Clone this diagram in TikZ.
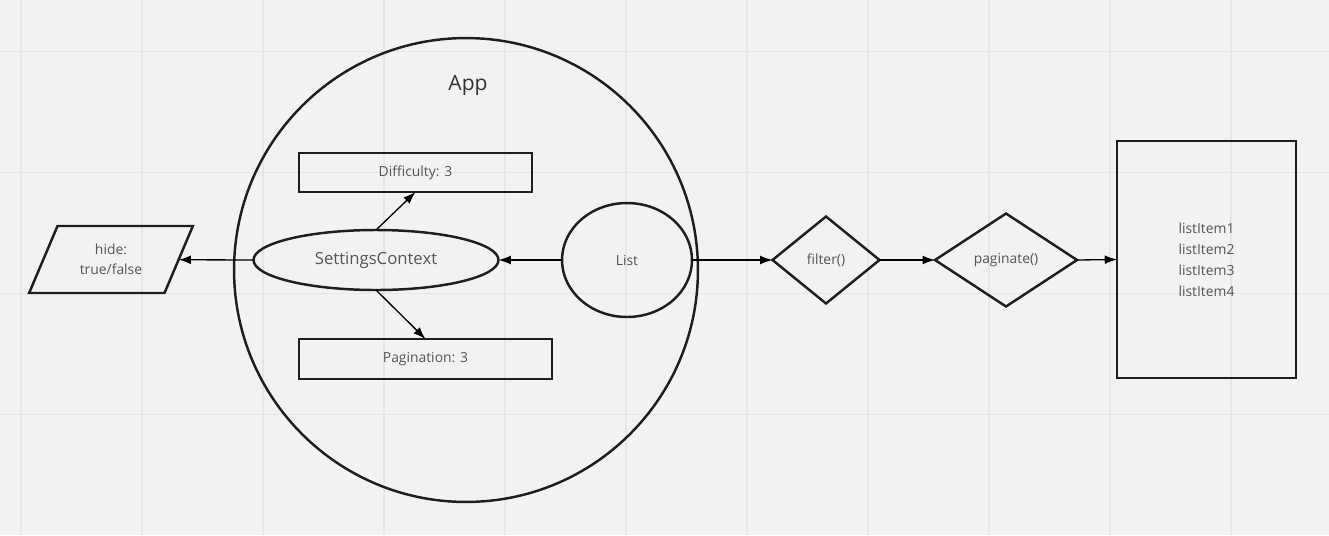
\documentclass[tikz,border=0pt]{standalone}
\usepackage{fontspec}
\setmainfont{Open Sans}
\usepackage{xcolor}
\usepackage{tikz}
\usetikzlibrary{shapes.geometric,arrows.meta}
\definecolor{appbg}{RGB}{242,242,242}
\definecolor{appgrid}{RGB}{230,230,230}
\definecolor{appline}{RGB}{30,30,30}
\definecolor{apptext}{RGB}{85,85,85}
\definecolor{apptitle}{RGB}{51,51,51}
\newcommand{\smalltext}{\fontsize{7.9}{11.6}\selectfont}
\tikzset{
    app shape/.style={
        draw=appline,
        line width=1.4pt,
        fill=none,
        inner sep=0pt,
        outer sep=0pt,
        align=center,
        text=apptext,
        font=\smalltext,
    },
    app box/.style={
        app shape,
        rectangle,
    },
    app ellipse/.style={
        app shape,
        ellipse,
    },
    app decision/.style={
        app shape,
        diamond,
    },
    app input/.style={
        app shape,
        trapezium,
        trapezium left angle=62,
        trapezium right angle=118,
        trapezium stretches=true,
    },
    app arrow/.style={
        -{Latex[length=7pt,width=5pt]},
        line width=0.75pt,
        draw=black,
    },
}

\begin{document}
\begin{tikzpicture}[x=0.02cm,y=-0.02cm]
    %Background with grid
    \fill[appbg] (0,0) rectangle (1329,535);
    \useasboundingbox (0,0) rectangle (1329,535);
    \foreach \gx in {21,142,...,1329} {
        \draw[appgrid,line width=0.6pt] (\gx,0) -- (\gx,535);
    }
    \foreach \gy in {51.5,172.5,...,535} {
        \draw[appgrid,line width=0.6pt] (0,\gy) -- (1329,\gy);
    }

    \node[app shape,circle,minimum size=9.28cm] (app) at (466,270) {};
    \node[text=apptitle,font=\fontsize{12}{14}\selectfont] (app-label) at (468,85.5) {App};

    \node[app box,minimum width=4.66cm,minimum height=0.78cm] (difficulty) at (415.5,172.5) {Difficulty: 3};
    \node[app box,minimum width=5.06cm,minimum height=0.8cm] (pagination) at (425.5,359) {Pagination: 3};
    \node[app ellipse,minimum width=4.9cm,minimum height=1.2cm,font=\fontsize{9.5}{12}\selectfont] (settings) at (376,260) {SettingsContext};
    \node[app ellipse,minimum width=2.6cm,minimum height=2.28cm] (list) at (627,260) {List};

    \node[app input,minimum width=3.28cm,minimum height=1.34cm] (hide) at (111,259.5) {hide:\\true/false};

    \node[app decision,minimum width=2.14cm,minimum height=1.74cm] (filter) at (826,260) {filter()};
    \node[app decision,minimum width=2.84cm,minimum height=1.86cm] (paginate) at (1006,260) {paginate()};

    \node[app box,minimum width=3.58cm,minimum height=4.74cm,font=\fontsize{7.9}{12}\selectfont] (items) at (1206.5,259.5) {listItem1\\listItem2\\listItem3\\listItem4};

    \draw[app arrow] (settings.west) -- (hide);
    \draw[app arrow] (list.west) -- (settings.east);
    \draw[app arrow] (settings.north) -- (difficulty.south);
    \draw[app arrow] (settings.south) -- (pagination.north);
    \draw[app arrow] (list.east) -- (filter.west);
    \draw[app arrow] (filter.east) -- (paginate.west);
    \draw[app arrow] (paginate.east) -- (items.west);
\end{tikzpicture}
\end{document}
